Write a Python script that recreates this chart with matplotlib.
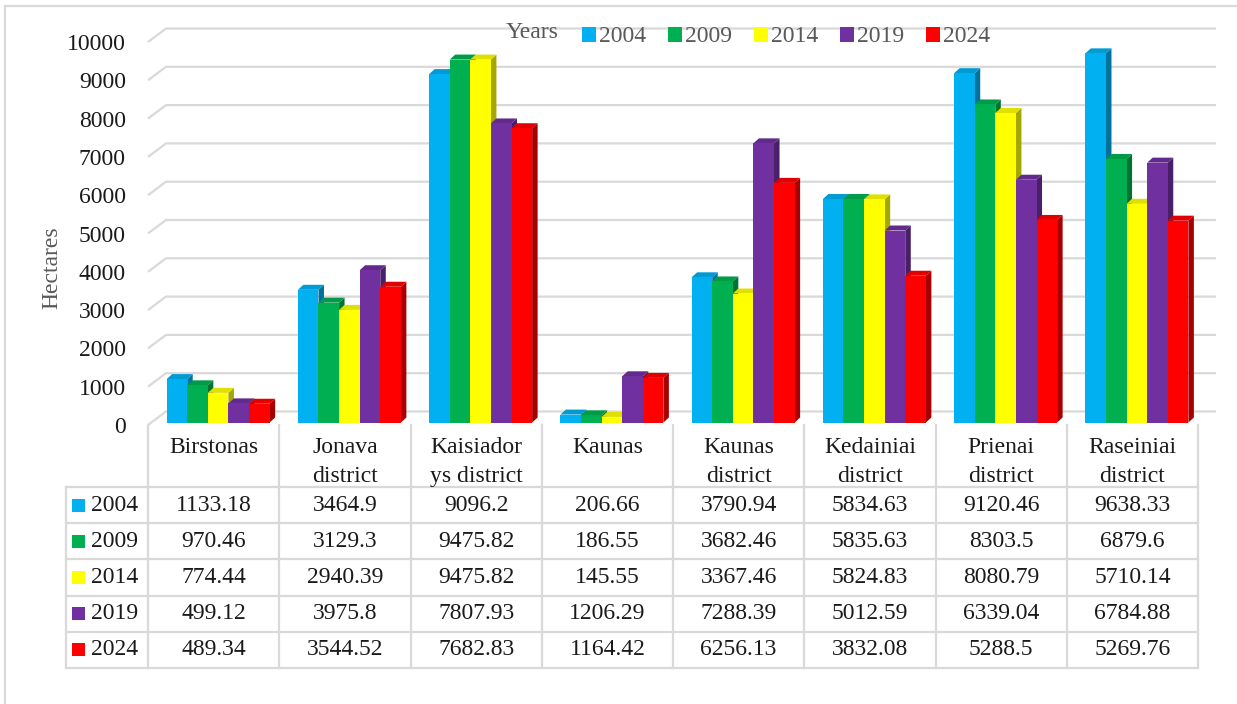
import matplotlib
matplotlib.use("Agg")
import matplotlib.pyplot as plt
from matplotlib.patches import Patch, Rectangle, Polygon
from matplotlib.lines import Line2D
from matplotlib.colors import to_rgb

plt.rcParams['font.family'] = ['Liberation Serif', 'DejaVu Serif']

# data
categories = ["Birstonas", "Jonava\ndistrict", "Kaisiador\nys district", "Kaunas",
              "Kaunas\ndistrict", "Kedainiai\ndistrict", "Prienai\ndistrict", "Raseiniai\ndistrict"]
years = ["2004", "2009", "2014", "2019", "2024"]
values_2004 = [1133.18, 3464.9, 9096.2, 206.66, 3790.94, 5834.63, 9120.46, 9638.33]
values_2009 = [970.46, 3129.3, 9475.82, 186.55, 3682.46, 5835.63, 8303.5, 6879.6]
values_2014 = [774.44, 2940.39, 9475.82, 145.55, 3367.46, 5824.83, 8080.79, 5710.14]
values_2019 = [499.12, 3975.8, 7807.93, 1206.29, 7288.39, 5012.59, 6339.04, 6784.88]
values_2024 = [489.34, 3544.52, 7682.83, 1164.42, 6256.13, 3832.08, 5288.5, 5269.76]
series = [values_2004, values_2009, values_2014, values_2019, values_2024]
colors = ["#00B0F0", "#00B050", "#FFFF00", "#7030A0", "#FF0000"]
yticks = list(range(0, 10001, 1000))

W, H = 1237, 704
GRID = "#D9D9D9"
TXT = "#1a1a1a"
FS = 17


def shade(c, f):
    r, g, b = to_rgb(c)
    return (r * f, g * f, b * f)


fig = plt.figure(figsize=(W / 100, H / 100), dpi=100)
ax = fig.add_axes([148 / W, 279 / H, 1050 / W, 383 / H])
ax.set_xlim(-0.5, 7.5)
ax.set_ylim(0, 10000)
for s in ax.spines.values():
    s.set_visible(False)
ax.set_xticks([])
ax.set_yticks(yticks)
ax.tick_params(axis='y', length=0, pad=16, labelsize=FS, labelcolor=TXT)

# pixel -> data units
px_x = 8 / 1050
px_y = 10000 / 383

# back wall gridlines with left wall diagonal
WX, WY = 18 * px_x, 13.5 * px_y
for t in yticks:
    ax.plot([-0.5, -0.5 + WX, 7.5 + WX], [t, t + WY, t + WY], color=GRID, lw=1.6,
            clip_on=False, zorder=1, solid_capstyle='butt')

# 3d-look bars
bw = 20.6 * px_x
FX, FY = 4.5 * px_x, 2.5 * px_y    # bar front plane offset
DX, DY = 5.5 * px_x, 5 * px_y      # bar depth
z = 2
for i in range(len(categories)):
    for j, vals in enumerate(series):
        v = vals[i]
        x0 = i + (j - 2) * bw - bw / 2 + FX
        x1 = x0 + bw
        side = Polygon([(x1, FY), (x1, FY + v), (x1 + DX, FY + v + DY), (x1 + DX, FY + DY)],
                       closed=True, facecolor=shade(colors[j], 0.65), edgecolor='none',
                       zorder=z, clip_on=False)
        top = Polygon([(x0, FY + v), (x1, FY + v), (x1 + DX, FY + v + DY), (x0 + DX, FY + v + DY)],
                      closed=True, facecolor=shade(colors[j], 0.88), edgecolor='none',
                      zorder=z, clip_on=False)
        ax.add_patch(side)
        ax.add_patch(top)
        ax.bar(x0, v, width=bw, bottom=FY, align='edge', color=colors[j],
               zorder=z + 0.5, clip_on=False)
        z += 1

ax.set_ylabel("Hectares", fontsize=FS, color="#595959")
ax.yaxis.set_label_coords(-0.082, 0.41)

# legend
handles = [Patch(facecolor=c, edgecolor='none') for c in colors]
fig.legend(handles, years, loc='center left', bbox_to_anchor=(582 / W, 1 - 37 / H),
           ncol=5, frameon=False, handlelength=0.58, handleheight=0.58, handletextpad=0.12,
           columnspacing=0.95, borderpad=0, borderaxespad=0, fontsize=FS,
           labelcolor="#595959")
fig.text(532 / W, 1 - 32 / H, "Years", ha='center', va='center', fontsize=FS, color="#595959")

# data table
tab = fig.add_axes([148 / W, 36 / H, 1050 / W, 243 / H])
tab.set_xlim(-0.5, 7.5)
tab.set_ylim(243, 0)
tab.axis('off')
head_h = 62
row_h = (243 - head_h) / len(years)
left = -0.5 - 82 * px_x
n = len(categories)
bounds = [k - 0.5 for k in range(n + 1)]
for b in bounds:
    tab.plot([b, b], [0, 243], color=GRID, lw=1.6, clip_on=False)
tab.plot([left, left], [head_h, 243], color=GRID, lw=1.6, clip_on=False)
for r in range(len(years) + 1):
    yy = head_h + r * row_h
    tab.plot([left, n - 0.5], [yy, yy], color=GRID, lw=1.6, clip_on=False)

for k, name in enumerate(categories):
    tab.text(k, 12, name, ha='center', va='top', fontsize=FS, color=TXT, linespacing=1.5)

for r, (yr, vals) in enumerate(zip(years, series)):
    yc = head_h + (r + 0.5) * row_h
    tab.add_patch(Rectangle((-0.5 - 76 * px_x, yc - 6.5), 13 * px_x, 13,
                            facecolor=colors[r], edgecolor='none', clip_on=False))
    tab.text(-0.5 - 57 * px_x, yc, yr, ha='left', va='center', fontsize=FS, color=TXT)
    for k, v in enumerate(vals):
        tab.text(k, yc, f"{v:g}", ha='center', va='center', fontsize=FS, color=TXT)

# chart border
fig.add_artist(Line2D([5 / W, 5 / W], [0, 1 - 6 / H], transform=fig.transFigure, color=GRID, lw=1.6))
fig.add_artist(Line2D([5 / W, 1], [1 - 6 / H, 1 - 6 / H], transform=fig.transFigure, color=GRID, lw=1.6))

fig.savefig("out.png", dpi=100)
